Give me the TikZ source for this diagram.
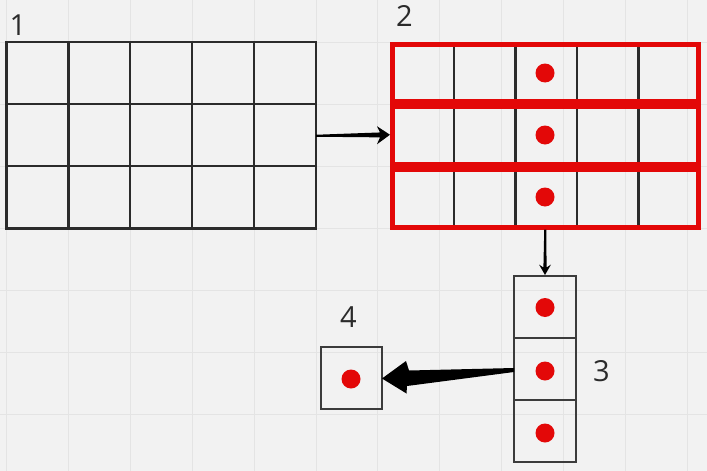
\documentclass[tikz,border=0pt]{standalone}
\usepackage{fontspec}
\setmainfont{Open Sans}
\usetikzlibrary{calc}
\definecolor{bg}{HTML}{F2F2F2}
\definecolor{gridc}{HTML}{E4E4E4}
\definecolor{ink}{HTML}{2B2B2B}
\definecolor{boxc}{HTML}{3C3C3C}
\definecolor{redc}{HTML}{E30808}
\begin{document}
\begin{tikzpicture}[x=1pt,y=-1pt,
  tablebox/.style={draw=ink, line width=2.2pt, inner sep=0pt, outer sep=0pt, anchor=north west},
  cellbox/.style={draw=boxc, line width=1.4pt, inner sep=0pt, outer sep=0pt, minimum width=62pt, minimum height=62pt, anchor=north west},
  reddot/.style={circle, fill=redc, minimum size=19pt, inner sep=0pt},
  lbl/.style={font=\fontsize{29}{29}\selectfont, text=ink, inner sep=0pt},
  arrowfill/.style={fill=black}
]
\fill[bg] (0,0) rectangle (707,471);
\useasboundingbox (0,0) rectangle (707,471);
% background grid
\foreach \k in {0,...,11} \draw[gridc, line width=1pt] ({6.5+61.9*\k},0) -- ({6.5+61.9*\k},471);
\foreach \k in {0,...,7} \draw[gridc, line width=1pt] (0,{42+62*\k}) -- (707,{42+62*\k});

% table 1
\node[tablebox, minimum width=309.5pt, minimum height=186.5pt] (t1) at (6.5,42) {};
\foreach \i in {1,...,4}
  \draw[ink, line width=2.2pt] ($(t1.north west)+({61.9*\i},0)$) -- ($(t1.south west)+({61.9*\i},0)$);
\foreach \j in {1,2}
  \draw[ink, line width=2.2pt] ($(t1.north west)+(0,{62*\j})$) -- ($(t1.north east)+(0,{62*\j})$);

% table 2
\node[draw=redc, line width=5pt, inner sep=0pt, outer sep=0pt, anchor=north west,
      minimum width=305.5pt, minimum height=182.5pt] (t2) at (392.5,44.5) {};
\foreach \i in {1,...,4}
  \draw[ink, line width=2.2pt] ($(t2.north west)+({61.5*\i},0)$) -- ($(t2.south west)+({61.5*\i},0)$);
\draw[redc, line width=5pt] (t2.north west) rectangle (t2.south east);
\draw[redc, line width=10pt] ($(t2.north west)+(0,59.5)$) -- ($(t2.north east)+(0,59.5)$);
\draw[redc, line width=10pt] ($(t2.north west)+(0,122.5)$) -- ($(t2.north east)+(0,122.5)$);
\node[reddot] (d21) at (545,73) {};
\node[reddot] (d22) at (545,135) {};
\node[reddot] (d23) at (545,197) {};

% column 3
\node[cellbox] (c1) at (514,276) {};
\node[cellbox] (c2) at (514,338) {};
\node[cellbox] (c3) at (514,400) {};
\node[reddot] (d31) at (545,307.5) {};
\node[reddot] (d32) at (545,371) {};
\node[reddot] (d33) at (545,433) {};

% box 4
\node[cellbox, minimum width=61pt] (b4) at (321,347) {};
\node[reddot] (d4) at (351,379) {};

% labels
\node[lbl] (l1) at (18,25.5) {1};
\node[lbl] (l2) at (404.5,16) {2};
\node[lbl] (l3) at (601.5,371) {3};
\node[lbl] (l4) at (348.5,317) {4};

% arrow 1 : t1 -> t2
\coordinate (a1s) at ($(t1.east)+(0,0.5)$);
\coordinate (a1t) at ($(t2.west)+(-2.5,-1)$);
\fill[arrowfill] ($(a1s)+(0,-1)$) -- ($(a1t)+(-10,-2.3)$) -- ($(a1t)+(-13,-8.5)$) -- (a1t)
  -- ($(a1t)+(-13,9.5)$) -- ($(a1t)+(-10,2.6)$) -- ($(a1s)+(0,1)$) -- cycle;

% arrow 2 : t2 -> c1
\coordinate (a2s) at ($(t2.south)+(0,2.5)$);
\coordinate (a2t) at ($(c1.north)+(0,-1)$);
\fill[arrowfill] ($(a2s)+(-1,0)$) -- ($(a2t)+(-1.6,-7.5)$) -- ($(a2t)+(-6,-10.5)$) -- (a2t)
  -- ($(a2t)+(6,-10.5)$) -- ($(a2t)+(1.6,-7.5)$) -- ($(a2s)+(1,0)$) -- cycle;

% arrow 3 : c2 -> b4
\coordinate (a3s) at ($(c2.west)+(0,1)$);
\coordinate (a3t) at ($(b4.east)+(0,0.5)$);
\fill[arrowfill] ($(a3s)+(0,-2)$) -- ($(a3t)+(27,-8)$) -- ($(a3t)+(24,-17.5)$) -- (a3t)
  -- ($(a3t)+(24.5,15)$) -- ($(a3t)+(25,7.5)$) -- ($(a3s)+(0,2)$) -- cycle;
\end{tikzpicture}
\end{document}
